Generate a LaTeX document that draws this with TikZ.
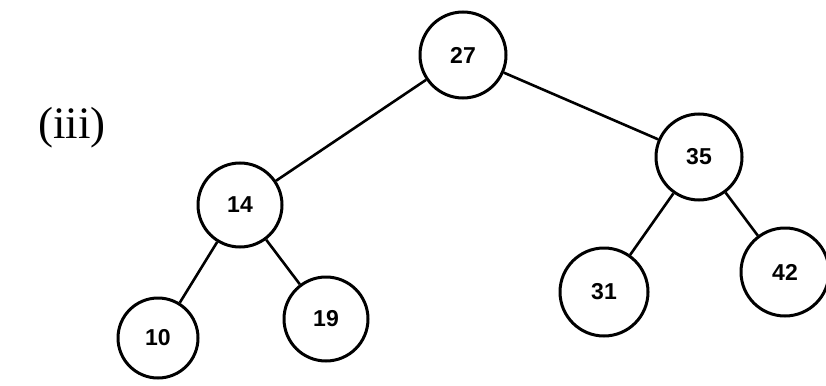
\documentclass[tikz,border=0pt]{standalone}
\usepackage{fontspec}
\setmainfont{Liberation Serif}
\newfontfamily\numfont{Liberation Sans}
\begin{document}
\begin{tikzpicture}[x=1pt,y=-1pt,
  tnode/.style={circle,draw=black,line width=3pt,fill=white,minimum size=86pt,inner sep=0pt,font=\numfont\bfseries\fontsize{23}{23}\selectfont},
  edge/.style={line width=2.6pt,black}]
\useasboundingbox (0,0) rectangle (826,385);
\node[font=\fontsize{45}{45}\selectfont] (lab) at (72,128) {(iii)};
\node[tnode] (n27) at (463,55) {27};
\node[tnode] (n35) at (699,157) {35};
\node[tnode,minimum size=84pt] (n14) at (240,205) {14};
\node[tnode,minimum size=80pt] (n10) at (158,338) {10};
\node[tnode,minimum size=84pt] (n19) at (326,319) {19};
\node[tnode,minimum size=88pt] (n31) at (604,292) {31};
\node[tnode,minimum size=88pt] (n42) at (785,272) {42};
\draw[edge] (n27) -- (n14);
\draw[edge] (n27) -- (n35);
\draw[edge] (n14) -- (n10);
\draw[edge] (n14) -- (n19);
\draw[edge] (n35) -- (n31);
\draw[edge] (n35) -- (n42);
\end{tikzpicture}
\end{document}
